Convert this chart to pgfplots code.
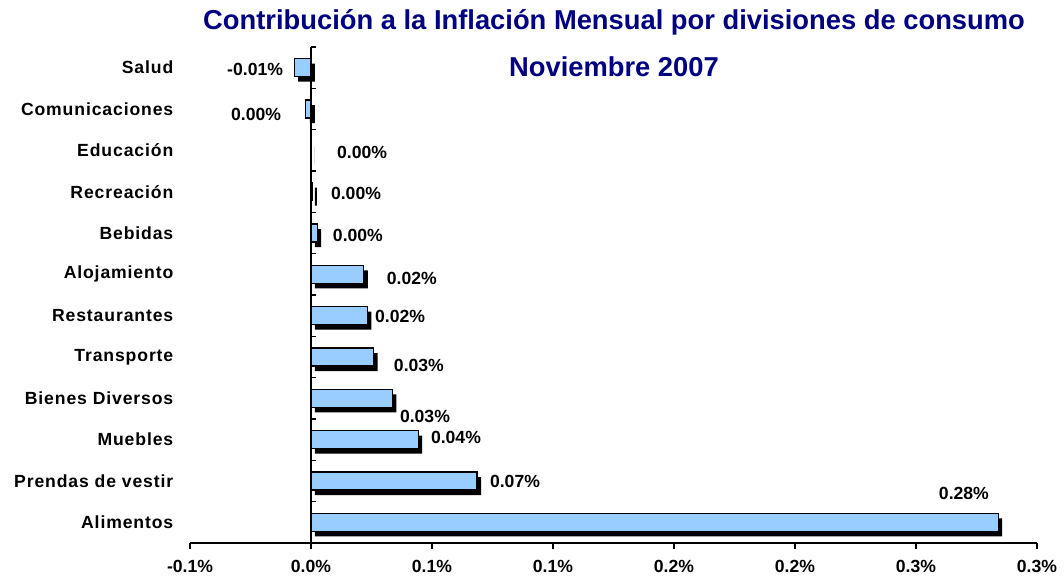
\documentclass[border=0pt]{standalone}
\usepackage{pgfplots}
\pgfplotsset{compat=1.18}
\usepackage{fontspec}
\setmainfont{Liberation Sans}
\newfontfamily\catfont[LetterSpace=5]{Liberation Sans}
\definecolor{barblue}{HTML}{99CCFF}
\definecolor{titleblue}{HTML}{000080}
\begin{document}
\begin{tikzpicture}
\begin{axis}[name=ax, scale only axis, width=635.25pt, height=372pt,
 xmin=-0.05, xmax=0.3, ymin=-0.5, ymax=11.5,
 axis x line=bottom, axis y line=left, axis line style={-},
 y axis line style={draw=none}, x axis line style={line width=0.8pt},
 xtick={-0.05,0,0.05,0.1,0.15,0.2,0.25,0.3},
 xticklabels={-0.1\%,0.0\%,0.1\%,0.1\%,0.2\%,0.2\%,0.3\%,0.3\%},
 ytick={0,...,11},
 yticklabels={Alimentos,Prendas de vestir,Muebles,Bienes Diversos,Transporte,Restaurantes,Alojamiento,Bebidas,Recreación,Educación,Comunicaciones,Salud},
 y tick style={draw=none},
 x tick style={black, line width=0.8pt},
 tick align=outside, major tick length=4.5pt,
 xticklabel style={font=\fontsize{13.2}{15}\selectfont\bfseries, yshift=-5pt},
 yticklabel style={font=\catfont\fontsize{13.2}{15}\selectfont\bfseries, xshift=-4.5pt},
 clip=false,
]
% shadow
\addplot[xbar, bar width=13.5pt, bar shift=-3.75pt, xshift=3pt, fill=black, draw=none] coordinates {
(0.2839,0) (0.0686,1) (0.0443,2) (0.0336,3) (0.0259,4) (0.0233,5) (0.0218,6) (0.0025,7) (0.0008,8) (0,9) (-0.0021,10) (-0.0070,11)};
% main bars
\addplot[xbar, bar width=13.5pt, bar shift=0pt, fill=barblue, draw=black, line width=0.8pt] coordinates {
(0.2839,0) (0.0686,1) (0.0443,2) (0.0336,3) (0.0259,4) (0.0233,5) (0.0218,6) (0.0025,7) (0.0008,8) (0,9) (-0.0021,10) (-0.0070,11)};
% value labels
\addplot[draw=none, mark=none, nodes near coords, point meta=explicit symbolic,
 every node near coord/.style={font=\fontsize{13.2}{15}\selectfont\bfseries, anchor=center}] coordinates {
(0.2698,0.70) [0.28\%]
(0.0843,0.99) [0.07\%]
(0.0599,2.06) [0.04\%]
(0.0471,2.57) [0.03\%]
(0.0446,3.80) [0.03\%]
(0.0368,4.99) [0.02\%]
(0.0417,5.91) [0.02\%]
(0.0194,6.93) [0.00\%]
(0.0186,7.95) [0.00\%]
(0.0211,8.94) [0.00\%]
(-0.0227,9.86) [0.00\%]
(-0.0231,10.95) [-0.01\%]
};
\draw[line width=0.8pt] (axis cs:0,-0.5) -- (axis cs:0,11.5);
\pgfplotsinvokeforeach{-0.5,0.5,1.5,2.5,3.5,4.5,5.5,6.5,7.5,8.5,9.5,10.5,11.5}{
 \draw[line width=0.8pt] (axis cs:0,#1) -- ([xshift=3.75pt]axis cs:0,#1);
}
\node[font=\fontsize{20.5}{24}\selectfont\bfseries, text=titleblue] at (rel axis cs:0.5006,1.0504) {Contribución a la Inflación Mensual por divisiones de consumo};
\node[font=\fontsize{20.5}{24}\selectfont\bfseries, text=titleblue] at (rel axis cs:0.5006,0.9597) {Noviembre 2007};
\end{axis}
\pgfresetboundingbox
\path[use as bounding box] ([shift={(-142.5pt,-30pt)}]ax.south west) rectangle ([shift={(655.5pt,407.25pt)}]ax.south west);
\end{tikzpicture}
\end{document}
